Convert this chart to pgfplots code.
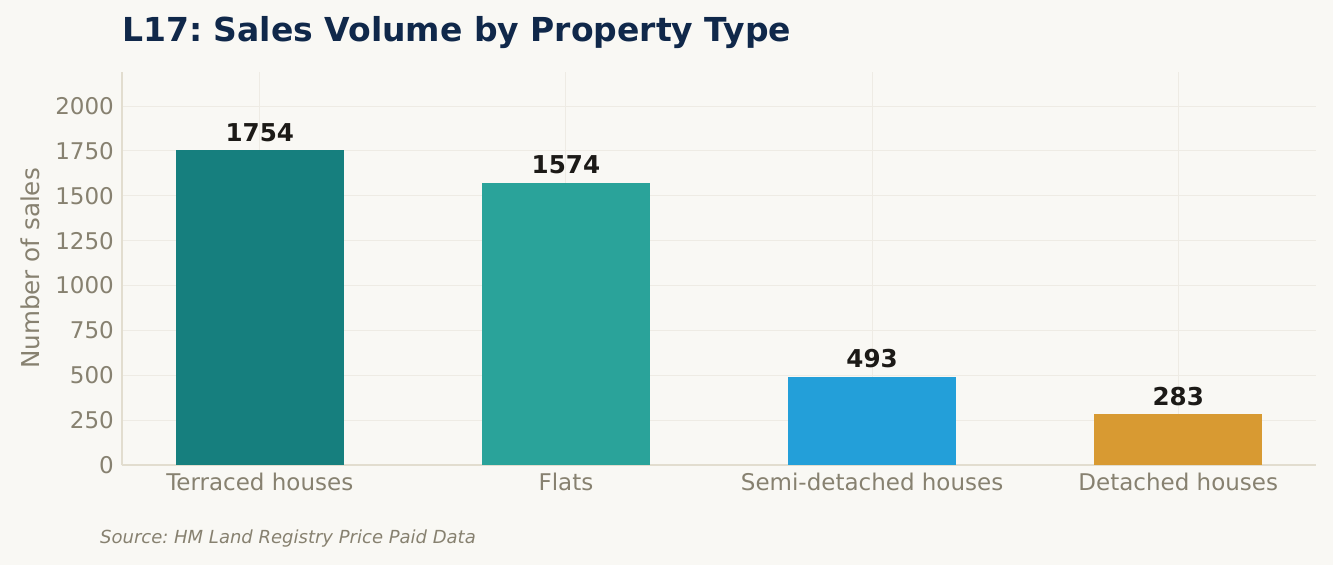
\documentclass[border=0pt]{standalone}
\usepackage{pgfplots}
\pgfplotsset{compat=1.18}
\usepackage{fontspec}
\setmainfont{DejaVu Sans}
\frenchspacing

\definecolor{bg}{HTML}{F9F8F4}
\definecolor{titlecol}{HTML}{10284A}
\definecolor{tickcol}{HTML}{878170}
\definecolor{spinecol}{HTML}{E2DDCF}
\definecolor{gridcol}{HTML}{EEEBE4}
\definecolor{labelcol}{HTML}{1C1A17}
\definecolor{c1}{HTML}{167F7E}
\definecolor{c2}{HTML}{2AA39A}
\definecolor{c3}{HTML}{239FD9}
\definecolor{c4}{HTML}{D89A32}

\begin{document}
\begin{tikzpicture}[x=1pt,y=1pt]
  \fill[bg] (0,0) rectangle (1333,565);
  \node[anchor=base west, text=titlecol, font=\fontsize{33}{38}\selectfont\bfseries, inner sep=0pt]
    at (122,523) {L17: Sales Volume by Property Type};
  \begin{axis}[
      at={(122pt,100pt)}, anchor=south west, scale only axis,
      width=1194pt, height=393pt,
      xmin=-0.45, xmax=3.45, ymin=0, ymax=2190,
      axis x line*=bottom, axis y line*=left,
      axis line style={spinecol, line width=1.5pt},
      major tick length=0pt,
      xtick={0,1,2,3},
      xticklabels={Terraced houses, Flats, Semi-detached houses, Detached houses},
      ytick={0,250,...,2000},
      grid=major,
      major grid style={gridcol, line width=1pt},
      /pgf/number format/1000 sep={},
      /pgf/number format/assume math mode=true,
      ticklabel style={text=tickcol, font=\fontsize{23}{27}\selectfont},
      xticklabel style={inner sep=8pt},
      yticklabel style={inner sep=8pt},
      ylabel={Number of sales},
      every axis y label/.style={at={(axis description cs:-0.0771,0.5)}, anchor=center,
        rotate=90, text=tickcol, font=\fontsize{24.6}{28}\selectfont},
      ybar, bar width=0.55, bar shift=0pt,
      nodes near coords,
      every node near coord/.append style={anchor=base, yshift=9pt, text=labelcol,
        font=\fontsize{24.6}{28}\selectfont\bfseries},
    ]
    \addplot[fill=c1, draw=none] coordinates {(0,1754)};
    \addplot[fill=c2, draw=none] coordinates {(1,1574)};
    \addplot[fill=c3, draw=none] coordinates {(2,493)};
    \addplot[fill=c4, draw=none] coordinates {(3,283)};
  \end{axis}
  \node[anchor=base west, text=tickcol, font=\fontsize{18}{22}\selectfont\itshape, inner sep=0pt]
    at (100,22) {Source: HM Land Registry Price Paid Data};
\end{tikzpicture}
\end{document}
